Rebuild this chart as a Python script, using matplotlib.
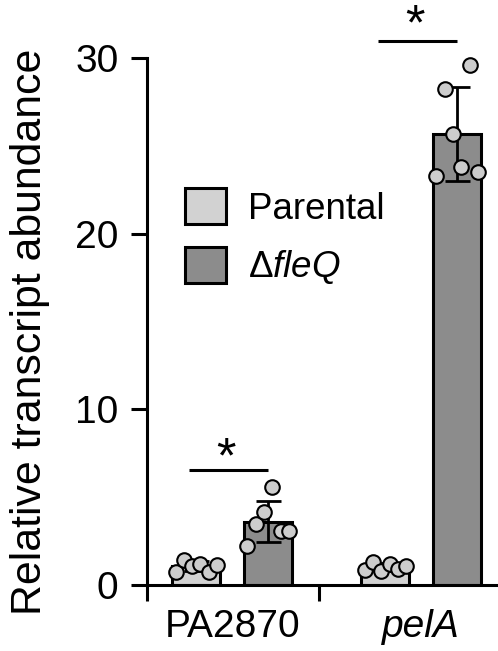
import numpy as np
import matplotlib
matplotlib.use("Agg")
import matplotlib.pyplot as plt
from matplotlib.patches import Patch

# Data
genes = ["PA2870", "pelA"]
parental_pa2870 = [0.75, 1.45, 1.1, 1.2, 0.75, 1.15]
fleq_pa2870 = [2.24, 3.47, 4.18, 5.6, 3.08, 3.08]
parental_pela = [0.85, 1.3, 0.8, 1.2, 0.9, 1.1]
fleq_pela = [23.3, 28.26, 25.7, 23.8, 29.6, 23.5]

plt.rcParams["font.family"] = ["Liberation Sans", "DejaVu Sans"]
plt.rcParams["mathtext.fontset"] = "custom"
plt.rcParams["mathtext.rm"] = "Liberation Sans"
plt.rcParams["mathtext.it"] = "Liberation Sans:italic"

c_par = "#d2d2d2"
c_fleq = "#8c8c8c"
c_dot = "#cdcdcd"

fig = plt.figure(figsize=(4.98, 6.51), dpi=100)
ax = fig.add_axes([147 / 498, 66 / 651, 351 / 498, 527 / 651])

groups = [(parental_pa2870, fleq_pa2870), (parental_pela, fleq_pela)]
off = 0.19
bw = 0.254
for g, (par, flq) in enumerate(groups):
    for vals, x, col in [(par, g - off, c_par), (flq, g + off, c_fleq)]:
        v = np.array(vals)
        ax.bar(x, v.mean(), width=bw, color=col, edgecolor="black", linewidth=2.2, zorder=2)
        ax.errorbar(x, v.mean(), yerr=v.std(ddof=1), fmt="none", ecolor="black",
                    elinewidth=2, capsize=9, capthick=2, zorder=3)
        jit = np.linspace(-0.11, 0.11, len(v))
        ax.scatter(x + jit, v, s=110, color=c_dot, edgecolor="black", linewidth=1.5,
                   zorder=4, clip_on=False)

# significance bars
sig_y = [6.55, 30.96]
star_y = [6.4, 31.05]
for g in range(2):
    ax.plot([g - 0.23, g + 0.19], [sig_y[g], sig_y[g]], color="black", lw=2.2,
            clip_on=False, solid_capstyle="butt")
    ax.text(g - 0.035, star_y[g], "*", fontsize=36, ha="center", va="baseline",
            clip_on=False)

ax.set_xlim(-0.451, 1.406)
ax.set_ylim(0, 30)
ax.set_yticks([0, 10, 20, 30])
ax.set_xticks([-0.451, 0.459])
ax.set_xticklabels([])
ax.set_xticks([0, 1], minor=True)
ax.set_xticklabels(genes, minor=True)
ax.get_xticklabels(minor=True)[1].set_style("italic")
ax.tick_params(axis="x", which="minor", length=0, pad=17, labelsize=28)
ax.tick_params(axis="x", which="major", length=11.5, width=2.2)
ax.tick_params(axis="y", length=11.5, width=2.2, pad=9, labelsize=28)

for s in ["top", "right"]:
    ax.spines[s].set_visible(False)
for s in ["left", "bottom"]:
    ax.spines[s].set_linewidth(2.2)

ax.set_ylabel("Relative transcript abundance", fontsize=30.8)
ax.yaxis.set_label_coords(-0.275, 0.48)

handles = [Patch(facecolor=c_par, edgecolor="black", linewidth=2.2),
           Patch(facecolor=c_fleq, edgecolor="black", linewidth=2.2)]
ax.legend(handles, ["Parental", r"$\Delta\mathit{fleQ}$"], loc="upper left",
          bbox_to_anchor=(0.108, 0.753), frameon=False, fontsize=26.5,
          borderpad=0, borderaxespad=0, handlelength=1.12, handleheight=1.12,
          handletextpad=0.6, labelspacing=0.55)

fig.savefig("out.png", dpi=100)
